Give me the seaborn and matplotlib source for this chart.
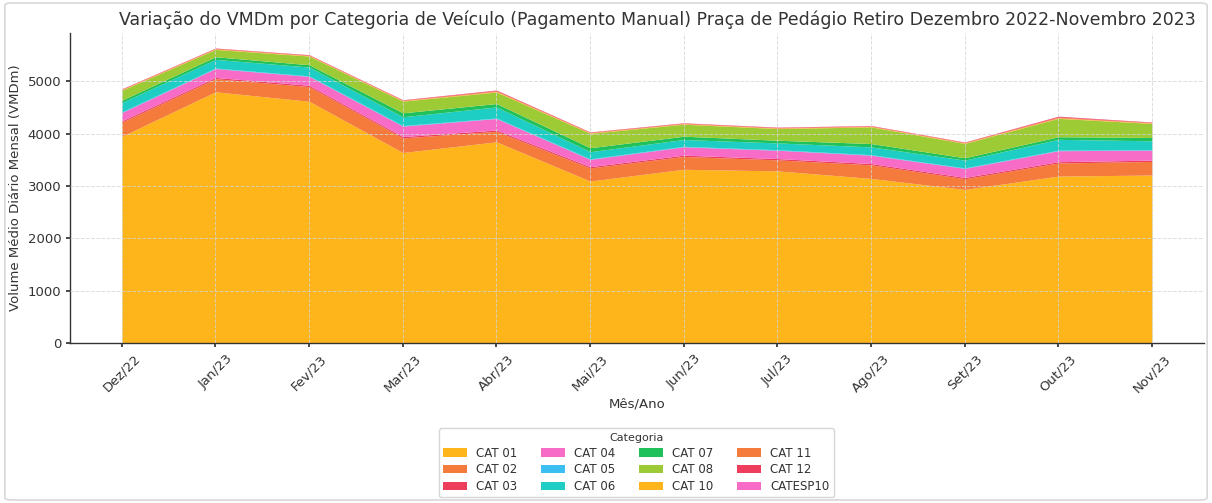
import matplotlib
matplotlib.use("Agg")
import matplotlib.pyplot as plt
import seaborn as sns
import numpy as np
from matplotlib.patches import FancyBboxPatch

months = ["Dez/22", "Jan/23", "Fev/23", "Mar/23", "Abr/23", "Mai/23",
          "Jun/23", "Jul/23", "Ago/23", "Set/23", "Out/23", "Nov/23"]

categories = ["CAT 01", "CAT 02", "CAT 03", "CAT 04", "CAT 05", "CAT 06",
              "CAT 07", "CAT 08", "CAT 10", "CAT 11", "CAT 12", "CATESP10"]

cat01 = [3950, 4800, 4620, 3640, 3845, 3095, 3320, 3290, 3145, 2935, 3190, 3210]
cat02 = [270, 250, 280, 280, 200, 250, 245, 210, 260, 205, 250, 260]
cat03 = [25, 25, 25, 25, 25, 25, 25, 25, 25, 25, 25, 25]
cat04 = [160, 170, 170, 200, 220, 140, 159, 159, 159, 172, 210, 191]
cat05 = [10, 10, 10, 10, 10, 10, 10, 10, 10, 10, 10, 10]
cat06 = [180, 165, 168, 168, 212, 136, 130, 130, 149, 148, 207, 168]
cat07 = [45, 50, 45, 76, 64, 76, 63, 51, 64, 45, 50, 64]
cat08 = [190, 140, 165, 223, 220, 275, 229, 223, 317, 274, 351, 268]
cat10 = [8, 8, 8, 8, 10, 8, 8, 8, 8, 8, 10, 8]
cat11 = [10, 10, 10, 10, 15, 10, 10, 10, 10, 10, 15, 10]
cat12 = [8, 8, 8, 8, 12, 8, 8, 8, 8, 8, 15, 8]
catesp10 = [2, 2, 2, 2, 3, 2, 2, 2, 2, 2, 3, 2]

series = [cat01, cat02, cat03, cat04, cat05, cat06, cat07, cat08,
          cat10, cat11, cat12, catesp10]

base_colors = ["#FDB51B", "#F47B3B", "#EE3E5B", "#F66CC6",
               "#3BBEF2", "#1ECDC4", "#20C15A", "#9DCB36"]

sns.set_theme(style="ticks")
plt.rcParams['font.family'] = ['DejaVu Sans']
palette = sns.color_palette(base_colors)
colors = [palette[i % len(palette)] for i in range(len(series))]

fig = plt.figure(figsize=(12.12, 5.03), dpi=100)
ax = fig.add_axes([0.058, 0.318, 0.935, 0.616])

x = np.arange(len(months))
ax.stackplot(x, *series, labels=categories, colors=colors, linewidth=0)

ax.set_xticks(x)
ax.set_xticklabels(months, rotation=45, fontsize=9.5, color="#333333")
ax.tick_params(axis="y", labelsize=9.5, labelcolor="#333333")
ax.tick_params(axis="both", length=3, color="#333333")
ax.set_xlim(-0.55, 11.55)
ax.set_ylim(0, 5920)
ax.grid(True, linestyle="--", color="#d4d4d4", linewidth=0.7, alpha=0.8)
ax.set_axisbelow(False)
for sp in ["top", "right"]:
    ax.spines[sp].set_visible(False)
for sp in ["left", "bottom"]:
    ax.spines[sp].set_color("#333333")
    ax.spines[sp].set_linewidth(1.0)

ax.set_title("Variação do VMDm por Categoria de Veículo (Pagamento Manual) Praça de Pedágio Retiro Dezembro 2022-Novembro 2023",
             fontsize=12.5, color="#333333", pad=6, x=0.518)
ax.set_xlabel("Mês/Ano", fontsize=9.5, color="#333333", labelpad=2)
ax.set_ylabel("Volume Médio Diário Mensal (VMDm)", fontsize=9.5, color="#333333")

leg = fig.legend(*ax.get_legend_handles_labels(), loc="upper center",
                 bbox_to_anchor=(0.525, 0.16), ncol=4, title="Categoria",
                 fontsize=8.5, title_fontsize=8, frameon=True,
                 columnspacing=2.0, handlelength=2.0, borderpad=0.4,
                 labelspacing=0.3)
leg.get_frame().set_edgecolor("#cccccc")
for t in leg.get_texts():
    t.set_color("#333333")
leg.get_title().set_color("#333333")

border = FancyBboxPatch((0.004, 0.006), 0.992, 0.988, boxstyle="round,pad=0,rounding_size=0.005",
                        transform=fig.transFigure, fill=False, edgecolor="#d8d8d8", linewidth=1.2)
fig.patches.append(border)

fig.savefig("out.png", dpi=100)
